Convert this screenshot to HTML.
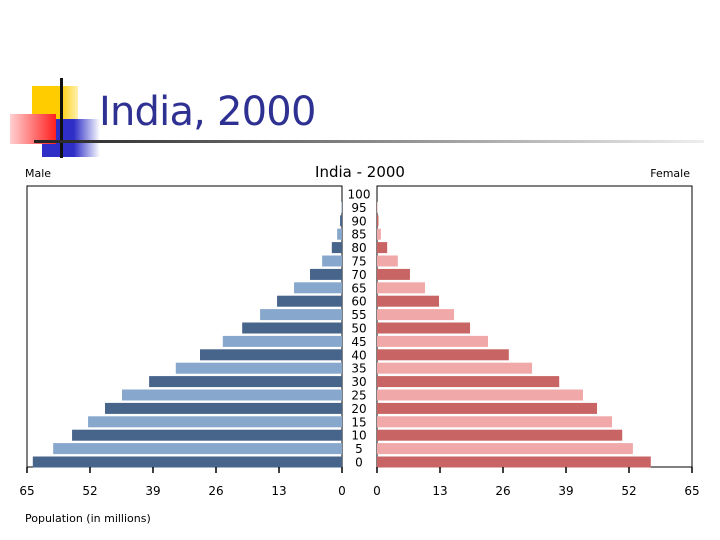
<!DOCTYPE html>
<html><head><meta charset="utf-8"><style>
body{margin:0;width:720px;height:540px;background:#fff;overflow:hidden;position:relative;font-family:"DejaVu Sans","Liberation Sans",sans-serif}
.abs{position:absolute}
</style></head><body>
<div class="abs" style="left:32px;top:86px;width:46px;height:46px;background:linear-gradient(90deg,#ffcc00 60%,#fff0b0)"></div>
<div class="abs" style="left:42px;top:119px;width:58px;height:38px;background:linear-gradient(90deg,#2f2fc8 55%,#fff)"></div>
<div class="abs" style="left:10px;top:114px;width:46px;height:30px;background:linear-gradient(90deg,#ffd0d0,#ff2020)"></div>
<div class="abs" style="left:60px;top:78px;width:3px;height:80px;background:#111"></div>
<div class="abs" style="left:34px;top:140px;width:670px;height:3px;background:linear-gradient(90deg,#222,#888 50%,#eee)"></div>
<div class="abs" style="left:99px;top:89px;font-size:40px;color:#2e3192;font-family:'DejaVu Sans',sans-serif;letter-spacing:-0.8px">India, 2000</div>
<svg class="abs" style="left:0;top:0" width="720" height="540" id="chart"></svg>
<script>
const ages=[0,5,10,15,20,25,30,35,40,45,50,55,60,65,70,75,80,85,90,95,100];
const male=[63.8,59.6,55.7,52.4,48.9,45.4,39.8,34.3,29.3,24.6,20.6,16.9,13.4,9.9,6.6,4.1,2.1,1.0,0.4,0.1,0];
const female=[56.5,52.8,50.6,48.5,45.4,42.5,37.6,32.0,27.2,22.9,19.2,15.9,12.8,9.9,6.8,4.3,2.1,0.8,0.3,0.1,0];
const ticks=[0,13,26,39,52,65];
(function(){
const svg=document.getElementById('chart');const NS='http://www.w3.org/2000/svg';
function mk(t,a,txt){const e=document.createElementNS(NS,t);for(const k in a)e.setAttribute(k,a[k]);if(txt!==undefined)e.textContent=txt;svg.appendChild(e);return e;}
const L0=342,R0=377,W=315,MAX=65,yTop=186,yBot=467;
const xl=v=>L0-v/MAX*W, xr=v=>R0+v/MAX*W;
const yc=i=>462-i*13.4;
let e;
e=mk('rect',{x:27,y:yTop,width:L0-27,height:yBot-yTop,fill:'none',stroke:'#000','stroke-width':1});


e=mk('rect',{x:R0,y:yTop,width:W,height:yBot-yTop,fill:'none',stroke:'#000','stroke-width':1});


ages.forEach((a,i)=>{
 const dark=(i%2===0);
 e=mk('rect',{x:xl(male[i]),y:yc(i)-5.5,width:male[i]/MAX*W,height:11,fill:dark?'#47648a':'#87a8cc'});
 
 
 e=mk('rect',{x:R0,y:yc(i)-5.5,width:female[i]/MAX*W,height:11,fill:dark?'#c86464':'#f0a8a8'});
 
 
 e=mk('text',{x:359,y:yc(i)+4.5,'text-anchor':'middle','font-size':12,fill:'#000'},String(a));
 
 
});
ticks.forEach(t=>{
 e=mk('line',{x1:xl(t),x2:xl(t),y1:yBot,y2:yBot+6,stroke:'#000','stroke-width':1.5});
 
 
 e=mk('text',{x:xl(t),y:495,'text-anchor':'middle','font-size':12},String(t));
 
 
 e=mk('line',{x1:xr(t),x2:xr(t),y1:yBot,y2:yBot+6,stroke:'#000','stroke-width':1.5});
 
 
 e=mk('text',{x:xr(t),y:495,'text-anchor':'middle','font-size':12},String(t));
 
 
});
e=mk('text',{x:360,y:177,'text-anchor':'middle','font-size':15},'India - 2000');


e=mk('text',{x:25,y:177,'font-size':11},'Male');


e=mk('text',{x:690,y:177,'text-anchor':'end','font-size':11},'Female');


e=mk('text',{x:25,y:522,'font-size':11},'Population (in millions)');


})();
</script>
</body></html>
